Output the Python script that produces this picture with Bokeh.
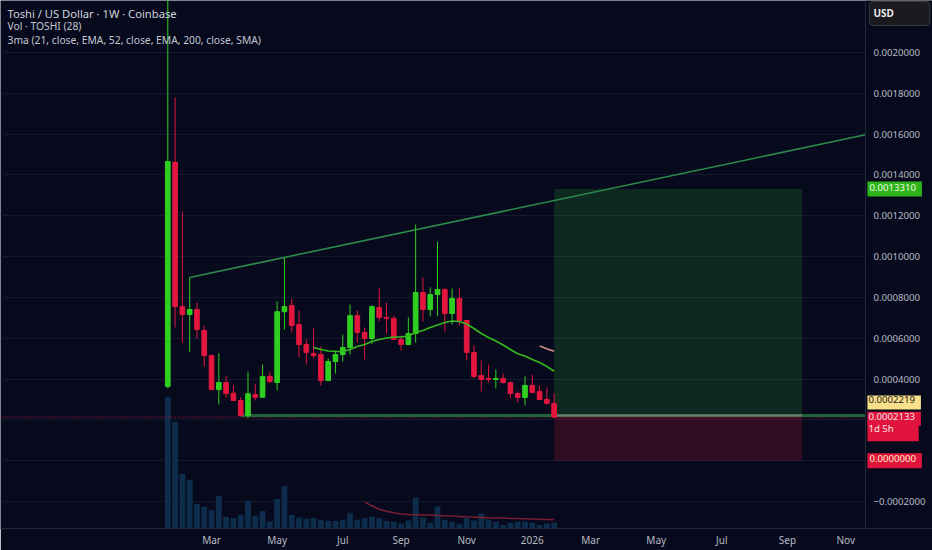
import numpy as np
import pandas as pd
from bokeh.plotting import figure
from bokeh.models import Range1d, FixedTicker, PrintfTickFormatter, Label, ColumnDataSource, BoxAnnotation, Span
from bokeh.core.properties import value
from bokeh.embed import file_html
from bokeh.resources import INLINE

# ---------------- data ----------------
first_week = "2025-01-20"
n_weeks = 54
opens = [3.64, 14.62, 7.55, 7.16, 7.41, 6.38, 5.15, 3.49, 3.83, 3.31, 2.95, 2.21, 3.23, 3.11, 4.13, 3.83, 7.30, 7.60,
         6.67, 5.69, 5.25, 5.20, 3.93, 4.86, 5.20, 5.55, 7.11, 6.28, 5.99, 7.51, 7.02, 6.97, 5.94, 5.69, 6.23, 8.24,
         7.41, 8.14, 8.39, 7.21, 7.95, 6.87, 5.30, 4.18, 4.03, 3.98, 4.03, 3.83, 3.29, 3.10, 3.69, 3.40, 3.00, 2.81]
highs = [26.0, 17.80, 12.21, 8.98, 7.75, 6.62, 5.20, 5.26, 4.17, 3.70, 3.11, 4.37, 3.78, 4.71, 4.37, 7.80, 9.96, 7.95,
         7.36, 5.94, 6.48, 5.59, 5.01, 5.40, 6.18, 7.65, 7.36, 6.53, 7.60, 8.44, 7.75, 7.11, 6.13, 7.02, 11.57, 8.98,
         8.49, 10.74, 8.45, 8.44, 8.44, 6.90, 5.65, 4.91, 4.71, 4.47, 4.27, 3.88, 3.40, 4.13, 4.22, 3.69, 3.59, 3.30]
lows = [3.54, 6.53, 5.80, 5.31, 5.99, 4.62, 3.45, 2.75, 3.10, 2.93, 2.19, 2.08, 2.95, 3.09, 3.79, 3.44, 6.43, 6.28,
        5.06, 4.71, 5.01, 3.68, 3.91, 4.27, 4.86, 5.20, 5.79, 4.96, 5.73, 6.82, 6.23, 5.92, 5.40, 5.67, 5.79, 6.82,
        7.07, 7.07, 6.33, 6.67, 6.62, 4.91, 4.03, 3.39, 3.83, 3.54, 3.79, 3.05, 2.85, 2.71, 3.32, 2.98, 2.75, 2.13]
closes = [14.66, 7.55, 7.16, 7.41, 6.43, 5.15, 3.49, 3.83, 3.29, 2.95, 2.21, 3.28, 3.11, 4.13, 3.88, 7.30, 7.55, 6.62,
          5.69, 5.30, 5.15, 3.93, 4.86, 5.20, 5.55, 7.11, 6.28, 5.99, 7.55, 7.02, 6.97, 5.94, 5.69, 6.23, 8.24, 7.41,
          8.14, 8.39, 7.21, 7.95, 6.87, 5.30, 4.13, 3.98, 3.98, 4.03, 3.83, 3.29, 3.10, 3.69, 3.34, 3.00, 2.81, 2.133]
price_unit = 1e-4   # values above are in units of 0.0001 USD

volumes = [1317, 1067, 544, 484, 244, 217, 184, 327, 117, 104, 137, 277, 127, 174, 70, 297, 424, 134,
           110, 97, 104, 87, 77, 74, 87, 150, 87, 104, 117, 104, 74, 67, 50, 80, 307, 110,
           57, 220, 87, 67, 47, 104, 80, 150, 90, 67, 34, 57, 67, 70, 57, 34, 50, 57]   # millions TOSHI
vol_ma28 = [267, 227, 192, 172, 157, 144, 139, 137, 135, 134, 131, 127, 124, 121, 117, 114, 111, 108,
            106, 104, 101, 99, 97, 95, 93, 91, 90]          # from week 28 on
ema21 = [5.547, 5.449, 5.375, 5.351, 5.351, 5.449, 5.596, 5.694, 5.841, 5.939, 6.012, 6.061, 6.061, 6.110,
         6.282, 6.380, 6.527, 6.649, 6.772, 6.845, 6.821, 6.698, 6.478, 6.233, 6.037, 5.865, 5.669, 5.449,
         5.238, 5.130, 4.959, 4.812, 4.615, 4.385]          # from week 21 on
ema52 = [5.62, 5.48, 5.36]                                # from week 52 on

trend_weeks = ["2025-02-10", "2025-05-12"]
trend_prices = [8.98, 9.96]
support_start = "2025-03-31"
support_price = 0.0002219
last_price = 0.0002133
countdown = "1d 5h"
pos_start, pos_end = "2026-01-26", "2026-09-21"
pos_entry, pos_target, pos_stop = 0.0002219, 0.0013310, 0.0

tick_dates = ["2025-03-03", "2025-05-05", "2025-07-07", "2025-09-01", "2025-11-03", "2026-01-05",
              "2026-03-02", "2026-05-04", "2026-07-06", "2026-09-07", "2026-11-02"]
tick_labels = ["Mar", "May", "Jul", "Sep", "Nov", "2026", "Mar", "May", "Jul", "Sep", "Nov"]
price_ticks = [-0.0002, 0.0, 0.0002, 0.0004, 0.0006, 0.0008, 0.0010, 0.0012, 0.0014, 0.0016, 0.0018, 0.0020]
hidden_price_ticks = [0.0, 0.0002]

# ---------------- helpers ----------------
d0 = pd.Timestamp(first_week)
dates = pd.date_range(first_week, periods=n_weeks, freq="7D")
def wk(d):
    return (pd.Timestamp(d) - d0).days / 7.0

xs = np.array([wk(d) for d in dates])
o = np.array(opens) * price_unit
h = np.array(highs) * price_unit
l = np.array(lows) * price_unit
c = np.array(closes) * price_unit
up = c >= o

BG = "#060a1c"
GREEN = "#2fcf22"
RED = "#e3163f"
FONT = "Noto Sans"

x_start, x_end = -22.95, 104.9
strip_x = 95.7            # start of the price-scale strip
y_start, y_end = -0.0003322, 0.002255

p = figure(width=932, height=550, x_range=Range1d(x_start, x_end), y_range=Range1d(y_start, y_end),
           output_backend="svg", toolbar_location=None, y_axis_location="right",
           min_border_left=0, min_border_top=0, min_border_right=0, min_border_bottom=22)
p.background_fill_color = BG
p.border_fill_color = BG
p.outline_line_color = None

p.extra_y_ranges = {"vol": Range1d(0, 5280)}

# grid
p.xgrid.visible = False
p.ygrid.ticker = FixedTicker(ticks=price_ticks)
p.ygrid.grid_line_color = "#131a30"
p.ygrid.grid_line_width = 1

# price-scale strip cover and separator
p.add_layout(BoxAnnotation(left=strip_x, fill_color=BG, fill_alpha=1.0, line_color=None, level="underlay"))
p.add_layout(Span(location=strip_x, dimension="height", line_color="#262a3a", line_width=1))

# position tool
p.quad(left=[wk(pos_start)], right=[wk(pos_end)], bottom=[pos_entry], top=[pos_target],
       fill_color="#33a532", fill_alpha=0.2, line_color=None)
p.quad(left=[wk(pos_start)], right=[wk(pos_end)], bottom=[pos_stop], top=[pos_entry],
       fill_color="#e0143c", fill_alpha=0.2, line_color=None)

# volume
p.vbar(x=xs, top=volumes, bottom=0, width=0.8, y_range_name="vol", fill_color="#0e2d4c", line_color=None)
p.line(x=xs[27:], y=vol_ma28, y_range_name="vol", line_color="#7a1f33", line_width=1.5)

# price line (dotted) and support ray
p.line(x=[x_start, strip_x], y=[last_price, last_price], line_color=RED, line_width=1, line_dash="1 2")
p.line(x=[wk(support_start), strip_x], y=[support_price, support_price], line_color="#1f6e3a",
       line_width=3, line_alpha=0.9)
p.line(x=[wk(pos_start), wk(pos_end)], y=[pos_entry, pos_entry], line_color="#8c8c8c", line_width=2, line_alpha=0.7)

# trend line
tx0, tx1 = wk(trend_weeks[0]), wk(trend_weeks[1])
ty0, ty1 = trend_prices[0] * price_unit, trend_prices[1] * price_unit
slope = (ty1 - ty0) / (tx1 - tx0)
p.line(x=[tx0, strip_x], y=[ty0, ty0 + slope * (strip_x - tx0)], line_color="#2c8a4a", line_width=1.6)

# candles
colors = [GREEN if u else RED for u in up]
src = ColumnDataSource(dict(x=xs, h=h, l=l, top=np.maximum(o, c), bottom=np.minimum(o, c), color=colors))
p.segment(x0="x", y0="h", x1="x", y1="l", source=src, line_color="color", line_width=1)
p.vbar(x="x", top="top", bottom="bottom", width=0.64, source=src, fill_color="color", line_color="color", line_width=1)

# moving averages
p.line(x=xs[20:], y=np.array(ema21) * price_unit, line_color="#36b81f", line_width=1.6)
p.line(x=xs[51:], y=np.array(ema52) * price_unit, line_color="#c98b84", line_width=1.6)

# axes
ya = p.yaxis[0]
ya.fixed_location = strip_x
ya.ticker = FixedTicker(ticks=[t for t in price_ticks if t not in hidden_price_ticks])
ya.formatter = PrintfTickFormatter(format="%.7f")
ya.major_label_overrides = {-0.0002: "\u22120.0002000"}
ya.major_label_text_font = FONT
ya.major_label_text_font_size = "9.6px"
ya.major_label_text_color = "#b8bbc4"
ya.major_tick_line_color = None
ya.minor_tick_line_color = None
ya.major_tick_out = 0
ya.major_tick_in = 0
ya.minor_tick_out = 0
ya.minor_tick_in = 0
ya.axis_line_color = None
ya.major_label_standoff = 8

xa = p.xaxis[0]
tick_x = [wk(d) for d in tick_dates]
xa.ticker = FixedTicker(ticks=tick_x)
xa.major_label_overrides = {tx: lab for tx, lab in zip(tick_x, tick_labels)}
xa.major_label_text_font = FONT
xa.major_label_text_font_size = "10px"
xa.major_label_text_color = "#b8bbc4"
xa.major_tick_line_color = None
xa.minor_tick_line_color = None
xa.major_tick_out = 0
xa.major_tick_in = 0
xa.minor_tick_out = 0
xa.minor_tick_in = 0
xa.axis_line_color = "#262a3a"
xa.major_label_standoff = 4

# legend texts
legend_lines = ["Toshi / US Dollar \u00b7 1W \u00b7 Coinbase", "Vol \u00b7 TOSHI (28)",
                "3ma (21, close, EMA, 52, close, EMA, 200, close, SMA)"]
legend_sizes = ["11.2px", "10.3px", "10.3px"]
legend_dy = [-13, -25.5, -39]
for i, t in enumerate(legend_lines):
    p.add_layout(Label(x=x_start, y=y_end, x_offset=7, y_offset=legend_dy[i], text=t,
                       text_font=FONT, text_font_size=legend_sizes[i], text_baseline="middle",
                       text_color="#d1d4dc" if i == 0 else "#c4c7d0"))

# price tags on the price scale
def tag(yv, text, bg, fg, dy=0, pad=(2, 6, 2, 6)):
    p.add_layout(Label(x=strip_x, y=yv, x_offset=2, y_offset=dy, text=text, text_font=FONT,
                       text_font_size="9.6px", text_color=fg, text_baseline="middle",
                       background_fill_color=bg, background_fill_alpha=1.0, padding=pad))

tag(pos_target, f"{pos_target:.7f}", "#2eb51c", "#eef8e0")
tag(last_price, f"{last_price:.7f}", "#e0143c", "#fbe4e6", dy=-1.5, pad=(1, 6, 1, 6))
tag(last_price, countdown, "#e0143c", "#fbe4e6", dy=-14, pad=(1, 25, 1, 6))
tag(support_price, f"{support_price:.7f}", "#f8df8a", "#1b1b1b", dy=13, pad=(1, 6, 1, 6))
tag(pos_stop, f"{pos_stop:.7f}", "#e0143c", "#fff0c4")

p.add_layout(Label(x=strip_x, y=y_end, x_offset=4, y_offset=-13, text="USD", text_font=FONT,
                   text_font_size="10px", text_color="#e8e8ea", text_font_style="bold",
                   text_baseline="middle", background_fill_color="#1b1b1f", border_line_color="#3a3a42",
                   padding=(4, 36, 4, 6), border_radius=4))

open("out.html", "w").write(file_html(p, INLINE))
